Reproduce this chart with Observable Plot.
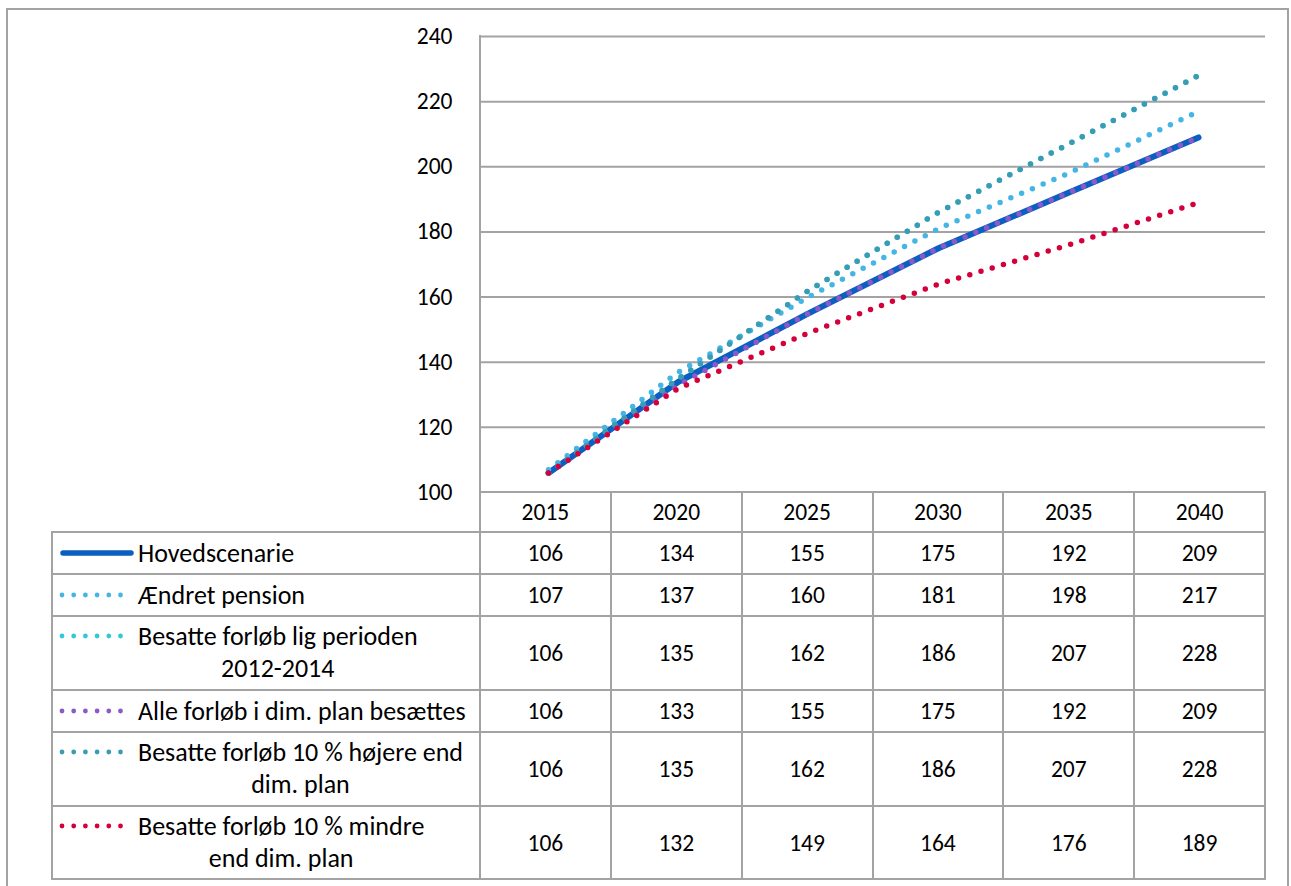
<!DOCTYPE html>
<html><head><meta charset="utf-8">
<script src="https://cdn.jsdelivr.net/npm/d3@7"></script>
<script src="https://cdn.jsdelivr.net/npm/@observablehq/plot@0.6"></script>
<style>
body{margin:0;background:#fff;}
#root{position:relative;width:1291px;height:886px;overflow:hidden;font-family:Carlito,Lato,sans-serif;color:#000;}
.abs{position:absolute;}
.hl{position:absolute;height:2px;background:#a3a3a3;}
.vl{position:absolute;width:2px;background:#a3a3a3;}
.num{position:absolute;text-align:center;font-size:23.5px;line-height:26px;}
.lab{position:absolute;font-size:26px;line-height:32px;text-align:center;white-space:nowrap;}
</style></head><body><div id="root"></div>
<script>
// ---- data ----
const years = [2015, 2020, 2025, 2030, 2035, 2040];
const yTicks = [100, 120, 140, 160, 180, 200, 220, 240];
const seriesNames = [
  "Hovedscenarie",
  "Ændret pension",
  "Besatte forløb lig perioden 2012-2014",
  "Alle forløb i dim. plan besættes",
  "Besatte forløb 10 % højere end dim. plan",
  "Besatte forløb 10 % mindre end dim. plan"
];
const legendLines = [
  ["Hovedscenarie"],
  ["Ændret pension"],
  ["Besatte forløb lig perioden", "2012-2014"],
  ["Alle forløb i dim. plan besættes"],
  ["Besatte forløb 10 % højere end", "dim. plan"],
  ["Besatte forløb 10 % mindre", "end dim. plan"]
];
const hovedscenarie  = [106, 134, 155, 175, 192, 209];
const aendretPension = [107, 137, 160, 181, 198, 217];
const ligPerioden    = [106, 135, 162, 186, 207, 228];
const alleForloeb    = [106, 133, 155, 175, 192, 209];
const hoejere10      = [106, 135, 162, 186, 207, 228];
const mindre10       = [106, 132, 149, 164, 176, 189];
const seriesValues = [hovedscenarie, aendretPension, ligPerioden, alleForloeb, hoejere10, mindre10];
const seriesColors = ["#0a5fc0", "#45b5e6", "#33c8d6", "#8a5ac8", "#3a9cb4", "#d5003a"];
const seriesDashed = [false, true, true, true, true, true];

// ---- build ----
const root = document.getElementById("root");
const rows = [];
seriesNames.forEach((name, s) => seriesValues[s].forEach((v, i) => rows.push({name, s, year: years[i], value: v})));

const plotLeft = 480, plotRight = 1265, plotTop = 36, plotBottom = 492;
const colW = (plotRight - plotLeft) / years.length;

const marks = [
  Plot.ruleY(yTicks.filter(t => t > 100), {y: d => d, stroke: "#a3a3a3", strokeWidth: 2})
];
seriesNames.forEach((name, s) => {
  marks.push(Plot.line(rows.filter(r => r.s === s), {
    x: "year", y: "value",
    stroke: seriesColors[s],
    strokeWidth: seriesDashed[s] ? 5.5 : 6,
    strokeLinecap: "round",
    strokeLinejoin: "round",
    strokeDasharray: seriesDashed[s] ? "0 11.7" : null
  }));
});

const chart = Plot.plot({
  width: 1291, height: 500,
  marginLeft: plotLeft, marginRight: 1291 - plotRight, marginTop: plotTop, marginBottom: 500 - plotBottom,
  style: {fontFamily: "Carlito, Lato, sans-serif", fontSize: "23.5px", color: "#000", background: "transparent", overflow: "visible"},
  x: {type: "point", domain: years, padding: 0, range: [plotLeft + colW / 2, plotRight - colW / 2], axis: null},
  y: {domain: [100, 240], ticks: yTicks, tickSize: 0, tickPadding: 28, label: null},
  marks
});
chart.style.position = "absolute";
chart.style.left = "0px";
chart.style.top = "0px";
root.appendChild(chart);

function div(cls, css, html) {
  const d = document.createElement("div");
  d.className = cls;
  Object.assign(d.style, css);
  if (html != null) d.innerHTML = html;
  root.appendChild(d);
  return d;
}

// outer frame
div("abs", {left: "6px", top: "8px", width: "1283px", height: "1000px", border: "2px solid #a3a3a3", boxSizing: "border-box"});

// table geometry
const legendLeft = 52;
const rowY = [492, 532, 574, 616, 690, 732, 806, 879];
const colX = years.map((y, i) => plotLeft + i * colW).concat([plotRight]);

// horizontal lines
div("hl", {left: plotLeft + "px", top: (rowY[0] - 1) + "px", width: (plotRight - plotLeft + 1) + "px"});
for (let r = 1; r < rowY.length; r++) {
  div("hl", {left: legendLeft + "px", top: (rowY[r] - 1) + "px", width: (plotRight - legendLeft + 1) + "px"});
}
// vertical lines
div("vl", {left: (legendLeft - 1) + "px", top: (rowY[1] - 1) + "px", height: (rowY[7] - rowY[1] + 2) + "px"});
div("vl", {left: (plotLeft - 1) + "px", top: (plotTop - 1) + "px", height: (rowY[7] - plotTop + 2) + "px"});
for (let c = 1; c < colX.length; c++) {
  div("vl", {left: (colX[c] - 1) + "px", top: (rowY[0] - 1) + "px", height: (rowY[7] - rowY[0] + 2) + "px"});
}

// header years
years.forEach((y, i) => {
  div("num", {left: colX[i] + "px", width: colW + "px", top: ((rowY[0] + rowY[1]) / 2 - 13) + "px"}, String(y));
});
// rows
seriesNames.forEach((name, s) => {
  const top = rowY[s + 1], bot = rowY[s + 2];
  const mid = (top + bot) / 2;
  seriesValues[s].forEach((v, i) => {
    div("num", {left: colX[i] + "px", width: colW + "px", top: (mid - 13) + "px"}, String(v));
  });
  const lines = legendLines[s];
  const firstMid = lines.length === 1 ? mid : top + 20;
  // legend sample
  const svgNS = "http://www.w3.org/2000/svg";
  const svg = document.createElementNS(svgNS, "svg");
  svg.setAttribute("width", 90); svg.setAttribute("height", 14);
  Object.assign(svg.style, {position: "absolute", left: "55px", top: (firstMid - 7) + "px"});
  const ln = document.createElementNS(svgNS, "line");
  if (seriesDashed[s]) {
    ln.setAttribute("x1", 7); ln.setAttribute("x2", 70);
    ln.setAttribute("stroke-dasharray", "0 11.7");
    ln.setAttribute("stroke-width", 4.8);
  } else {
    ln.setAttribute("x1", 8); ln.setAttribute("x2", 76);
    ln.setAttribute("stroke-width", 5.5);
  }
  ln.setAttribute("y1", 7); ln.setAttribute("y2", 7);
  ln.setAttribute("stroke", seriesColors[s]);
  ln.setAttribute("stroke-linecap", "round");
  svg.appendChild(ln);
  root.appendChild(svg);
  div("lab", {left: "138px", top: (firstMid - 16) + "px"}, lines.join("<br>"));
});
</script>
</body></html>
